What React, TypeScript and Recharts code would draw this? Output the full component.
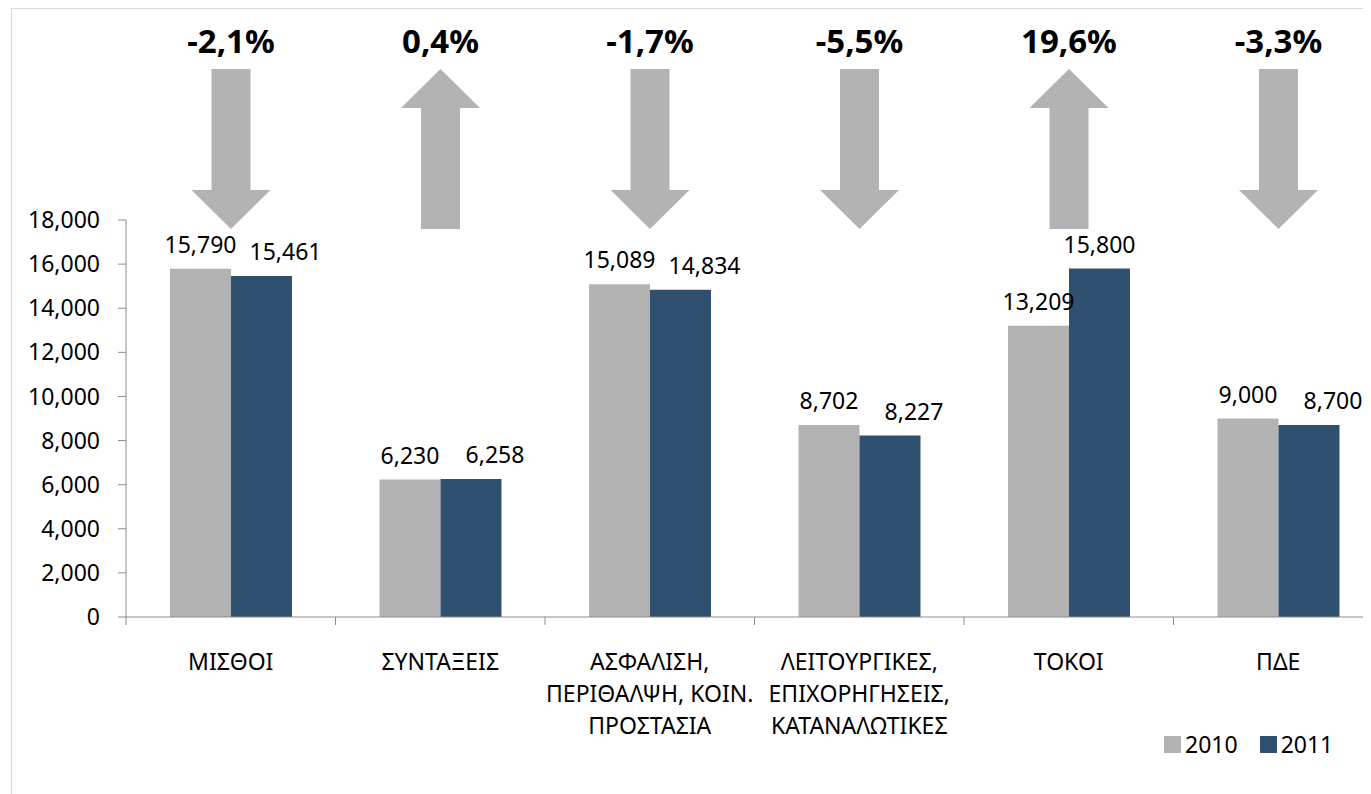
import { Bar, BarChart, LabelList, Legend, XAxis, YAxis } from 'recharts'

const categories = [
  'ΜΙΣΘΟΙ',
  'ΣΥΝΤΑΞΕΙΣ',
  'ΑΣΦΑΛΙΣΗ,\nΠΕΡΙΘΑΛΨΗ, ΚΟΙΝ.\nΠΡΟΣΤΑΣΙΑ',
  'ΛΕΙΤΟΥΡΓΙΚΕΣ,\nΕΠΙΧΟΡΗΓΗΣΕΙΣ,\nΚΑΤΑΝΑΛΩΤΙΚΕΣ',
  'ΤΟΚΟΙ',
  'ΠΔΕ',
]
const values2010 = [15790, 6230, 15089, 8702, 13209, 9000]
const values2011 = [15461, 6258, 14834, 8227, 15800, 8700]
const changeLabels = ['-2,1%', '0,4%', '-1,7%', '-5,5%', '19,6%', '-3,3%']
const yTicks = [0, 2000, 4000, 6000, 8000, 10000, 12000, 14000, 16000, 18000]

const GREY = '#b3b3b3'
const BLUE = '#30506f'
const AXIS = '#8c8c8c'
const FONT = "'Noto Sans', sans-serif"

const W = 1420
const H = 786
const MARGIN = { top: 212, right: 45, bottom: 57, left: 0 }
const Y_WIDTH = 118
const BAND = (W - MARGIN.right - MARGIN.left - Y_WIDTH) / categories.length
const PLOT_TOP = MARGIN.top

const data = categories.map((name, i) => ({
  name,
  y2010: values2010[i],
  y2011: values2011[i],
}))

const fmt = (v: number) => Number(v).toLocaleString('en-US')

// eslint-disable-next-line @typescript-eslint/no-explicit-any
function box(props: any) {
  const vb = props.viewBox || {}
  return {
    x: props.x ?? vb.x,
    y: props.y ?? vb.y,
    width: props.width ?? vb.width,
  }
}

// eslint-disable-next-line @typescript-eslint/no-explicit-any
function CategoryTick(props: any) {
  const { x, y, payload, index } = props
  const lines = String(payload.value).split('\n')
  const half = BAND / 2
  return (
    <g>
      <line x1={x - half} x2={x - half} y1={y} y2={y + 8} stroke={AXIS} />
      {index === categories.length - 1 && (
        <line x1={x + half} x2={x + half} y1={y} y2={y + 8} stroke={AXIS} />
      )}
      <text x={x} y={y + 53} textAnchor='middle' fontSize={23} fill='#000' fontFamily={FONT}>
        {lines.map((l, i) => (
          <tspan key={i} x={x} dy={i === 0 ? 0 : 32}>
            {l}
          </tspan>
        ))}
      </text>
    </g>
  )
}

// eslint-disable-next-line @typescript-eslint/no-explicit-any
function Label2010(props: any) {
  const { x, y, width } = box(props)
  return (
    <text x={x + width / 2} y={y - 16} textAnchor='middle' fontSize={23} fill='#000' fontFamily={FONT}>
      {fmt(props.value)}
    </text>
  )
}

// eslint-disable-next-line @typescript-eslint/no-explicit-any
function Label2011(props: any) {
  const { x, y, width } = box(props)
  const i = props.index
  // labels of close bar pairs are pushed right so they don't collide
  const dx = Math.abs(values2011[i] - values2010[i]) < 1500 ? 24 : 0
  return (
    <text x={x + width / 2 + dx} y={y - 16} textAnchor='middle' fontSize={23} fill='#000' fontFamily={FONT}>
      {fmt(props.value)}
    </text>
  )
}

// arrow + % change above each category pair
// eslint-disable-next-line @typescript-eslint/no-explicit-any
function ChangeMarker(props: any) {
  const { x, width } = box(props)
  const i = props.index
  const cx = x + width
  const up = values2011[i] > values2010[i]
  const s = 19.5
  const h = 39.5
  const top = PLOT_TOP - 151
  const bottom = PLOT_TOP + 9
  let pts: number[][]
  if (up) {
    const hb = top + 39
    pts = [[cx, top], [cx + h, hb], [cx + s, hb], [cx + s, bottom], [cx - s, bottom], [cx - s, hb], [cx - h, hb]]
  } else {
    const hb = bottom - 39
    pts = [[cx - s, top], [cx + s, top], [cx + s, hb], [cx + h, hb], [cx, bottom], [cx - h, hb], [cx - s, hb]]
  }
  return (
    <g>
      <polygon points={pts.map((p) => p.join(',')).join(' ')} fill={GREY} />
      <text x={cx} y={PLOT_TOP - 167} textAnchor='middle' fontSize={33} fontWeight='bold' fill='#000' fontFamily={FONT}>
        {changeLabels[i]}
      </text>
    </g>
  )
}

function LegendContent() {
  const items = [
    { name: '2010', color: GREY },
    { name: '2011', color: BLUE },
  ]
  return (
    <div style={{ display: 'flex', alignItems: 'center', whiteSpace: 'nowrap', fontSize: 23, lineHeight: '30px', color: '#000', fontFamily: FONT }}>
      {items.map((it) => (
        <span key={it.name} style={{ display: 'flex', alignItems: 'center', marginRight: 22 }}>
          <span style={{ width: 17, height: 17, background: it.color, marginRight: 4 }} />
          {it.name}
        </span>
      ))}
    </div>
  )
}

export default function App() {
  return (
    <div style={{ position: 'relative', width: 1363, height: 786, overflow: 'hidden', fontFamily: FONT }}>
      <div
        style={{
          position: 'absolute',
          left: 3,
          top: 0,
          width: 1500,
          height: 900,
          borderLeft: '1px solid #d9d9d9',
          borderTop: '1px solid #d9d9d9',
        }}
      />
      <div style={{ position: 'absolute', left: 0, top: 0 }}>
        <BarChart width={W} height={H} data={data} margin={MARGIN} barCategoryGap='21%' barGap={0}>
          <XAxis
            dataKey='name'
            interval={0}
            height={120}
            tickLine={false}
            tickSize={0}
            tickMargin={0}
            axisLine={{ stroke: AXIS }}
            tick={<CategoryTick />}
          />
          <YAxis
            width={Y_WIDTH}
            domain={[0, 18000]}
            ticks={yTicks}
            interval={0}
            tickSize={8}
            tickMargin={18}
            tickFormatter={fmt}
            axisLine={{ stroke: AXIS }}
            tickLine={{ stroke: AXIS }}
            tick={{ fill: '#000', fontSize: 23, fontFamily: FONT }}
          />
          <Legend
            content={<LegendContent />}
            wrapperStyle={{ position: 'absolute', left: 1156, top: 721, width: 0, height: 0, overflow: 'visible' }}
          />
          <Bar dataKey='y2010' name='2010' fill={GREY} isAnimationActive={false}>
            <LabelList dataKey='y2010' content={Label2010} />
            <LabelList dataKey='y2010' content={ChangeMarker} />
          </Bar>
          <Bar dataKey='y2011' name='2011' fill={BLUE} isAnimationActive={false}>
            <LabelList dataKey='y2011' content={Label2011} />
          </Bar>
        </BarChart>
      </div>
    </div>
  )
}
